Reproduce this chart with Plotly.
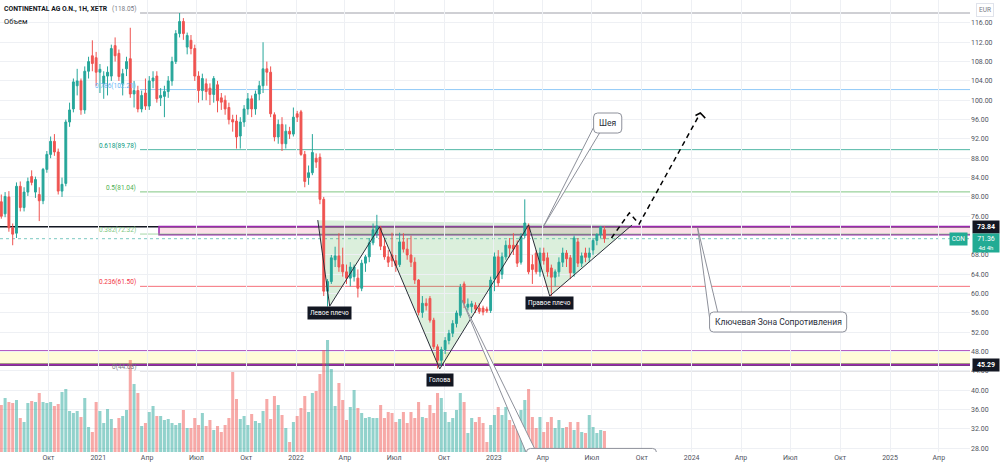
import pandas as pd
import plotly.graph_objects as go

# ---------------- weekly candles (EUR) ----------------
last_week = "2023-07-24"
opens = [
    79.0, 76.5, 80.0, 73.6, 72.5, 82.2, 77.8, 81.0, 84.2, 81.0,
    80.5, 79.2, 85.7, 88.8, 91.5, 89.3, 81.2, 82.8, 95.5, 98.2,
    103.0, 104.0, 98.0, 106.0, 109.2, 108.8, 105.8, 103.4, 105.0, 105.0,
    111.3, 109.7, 103.4, 106.5, 108.6, 101.3, 102.0, 98.2, 101.5, 98.8,
    104.0, 105.0, 100.5, 100.8, 101.8, 104.0, 108.0, 113.8, 116.3, 111.0,
    112.4, 110.7, 105.0, 102.0, 103.4, 102.5, 101.2, 103.2, 100.5, 100.0,
    98.5, 96.0, 95.7, 92.6, 95.5, 98.2, 100.3, 98.2, 101.3, 103.0,
    106.5, 105.8, 97.0, 92.4, 95.0, 91.0, 93.6, 93.0, 97.2, 97.6,
    88.8, 84.0, 85.0, 88.0, 88.2, 79.5, 60.5, 62.5, 67.0, 67.8,
    66.0, 64.5, 63.2, 63.5, 63.2, 61.1, 66.3, 67.6, 70.5, 72.5,
    73.5, 69.8, 67.6, 68.0, 66.8, 66.0, 70.7, 69.2, 68.0, 66.5,
    62.8, 56.1, 58.0, 59.0, 54.5, 49.0, 46.2, 48.4, 50.3, 51.8,
    53.8, 55.5, 62.0, 57.2, 57.3, 57.6, 57.0, 57.0, 56.8, 56.5,
    63.0, 67.6, 64.0, 67.6, 70.0, 70.0, 70.0, 66.5, 72.0, 74.0,
    66.0, 68.4, 64.5, 68.4, 67.4, 65.3, 63.4, 64.5, 66.5, 68.4,
    67.4, 64.3, 70.7, 66.3, 68.4, 67.5, 69.0, 71.0, 72.2, 73.2,
]
highs = [
    80.5, 81.0, 81.2, 74.5, 83.0, 83.2, 82.0, 84.0, 85.5, 84.2,
    82.0, 86.0, 89.5, 92.5, 93.0, 90.0, 84.0, 96.0, 99.5, 104.5,
    106.5, 104.5, 107.0, 109.0, 112.4, 110.0, 107.5, 106.0, 107.0, 111.5,
    113.0, 110.5, 106.5, 109.0, 115.0, 104.0, 103.0, 102.0, 104.5, 105.0,
    106.0, 106.0, 102.5, 103.0, 105.0, 109.0, 114.5, 118.05, 117.0, 114.0,
    113.5, 111.5, 106.0, 105.5, 104.5, 103.5, 105.0, 104.0, 101.5, 101.0,
    99.5, 97.0, 97.0, 96.5, 99.0, 101.5, 101.0, 102.0, 104.0, 112.0,
    108.0, 107.0, 97.5, 96.0, 96.5, 95.0, 94.5, 98.5, 97.8, 98.0,
    89.5, 86.5, 93.0, 89.0, 89.0, 80.0, 63.0, 68.0, 69.7, 72.5,
    69.5, 66.0, 66.5, 66.0, 65.0, 67.0, 68.0, 71.5, 74.5, 76.3,
    74.0, 71.5, 69.0, 72.6, 68.0, 72.6, 72.5, 71.5, 72.0, 67.5,
    63.0, 59.5, 59.0, 59.5, 55.0, 49.5, 49.0, 51.0, 52.5, 54.5,
    56.5, 62.0, 62.5, 59.0, 58.5, 58.2, 58.0, 57.5, 57.3, 63.5,
    68.5, 69.0, 68.5, 71.0, 71.5, 72.5, 71.0, 72.5, 79.5, 74.5,
    68.0, 69.0, 69.5, 69.5, 68.5, 66.0, 65.0, 67.5, 69.5, 69.0,
    68.0, 72.0, 71.5, 68.5, 69.5, 69.5, 71.5, 72.5, 74.0, 74.0,
]
lows = [
    75.5, 75.8, 72.8, 70.0, 71.5, 77.0, 77.0, 80.2, 82.4, 79.8,
    75.0, 78.5, 85.0, 88.0, 88.5, 80.5, 80.0, 82.2, 94.5, 97.5,
    101.0, 97.0, 97.2, 104.5, 106.0, 103.0, 101.5, 100.3, 101.0, 104.0,
    108.0, 104.0, 101.0, 105.0, 100.5, 98.5, 97.5, 97.5, 98.0, 98.0,
    102.5, 99.5, 98.8, 96.5, 100.5, 103.0, 107.5, 113.0, 112.5, 109.5,
    109.5, 104.0, 99.5, 100.0, 100.0, 99.0, 99.5, 97.5, 98.0, 97.0,
    95.0, 93.5, 90.0, 90.0, 94.5, 97.0, 96.5, 97.0, 100.0, 101.5,
    103.0, 96.5, 91.5, 91.0, 89.5, 90.0, 92.0, 92.5, 95.5, 88.5,
    82.0, 82.5, 84.5, 86.0, 78.5, 59.5, 57.3, 62.0, 65.5, 64.5,
    63.5, 62.0, 61.5, 62.5, 59.2, 60.5, 64.5, 66.5, 70.0, 71.5,
    69.0, 67.0, 65.5, 65.5, 64.5, 65.5, 68.5, 67.0, 65.5, 62.0,
    55.5, 55.0, 56.5, 54.0, 48.5, 44.5, 45.0, 47.5, 49.5, 51.0,
    53.0, 55.0, 57.0, 56.5, 56.0, 56.0, 55.8, 55.5, 56.0, 56.0,
    60.5, 61.5, 63.0, 67.0, 67.5, 68.0, 65.5, 66.0, 71.5, 64.0,
    62.0, 64.0, 63.5, 66.0, 63.5, 59.5, 61.5, 63.5, 65.5, 65.5,
    63.0, 63.5, 65.5, 65.5, 66.5, 66.5, 68.0, 70.0, 71.5, 70.5,
]
closes = [
    76.0, 80.1, 73.6, 72.3, 82.2, 77.8, 81.0, 83.2, 83.0, 83.6,
    79.2, 85.7, 88.8, 91.5, 89.3, 81.2, 82.6, 95.5, 98.0, 103.8,
    104.0, 98.0, 106.0, 108.0, 107.6, 105.8, 106.4, 105.0, 105.8, 110.7,
    109.2, 104.9, 105.5, 108.0, 101.3, 102.0, 98.2, 101.0, 98.8, 104.0,
    104.6, 100.3, 101.0, 101.8, 104.0, 108.0, 113.8, 116.3, 113.8, 113.4,
    110.7, 105.0, 102.0, 104.5, 101.8, 101.2, 104.5, 99.9, 99.6, 98.2,
    96.0, 95.5, 92.4, 95.5, 98.2, 100.3, 98.2, 101.3, 103.0, 106.5,
    105.8, 97.2, 92.4, 95.0, 91.0, 93.6, 93.0, 96.5, 96.5, 88.8,
    83.2, 85.0, 89.2, 87.2, 79.5, 60.5, 62.5, 67.4, 67.8, 65.5,
    64.5, 63.2, 65.5, 65.5, 61.1, 66.3, 67.6, 70.5, 73.2, 74.0,
    69.8, 67.6, 66.5, 66.8, 65.8, 70.7, 69.2, 68.0, 66.5, 62.8,
    56.1, 58.0, 57.5, 54.5, 49.0, 46.2, 48.4, 50.3, 51.8, 53.8,
    56.0, 61.3, 58.0, 57.8, 57.9, 56.8, 56.3, 56.2, 56.4, 62.8,
    67.6, 62.2, 67.6, 70.0, 69.4, 69.2, 66.3, 71.8, 74.6, 64.5,
    65.0, 64.5, 68.4, 66.8, 64.5, 63.4, 64.5, 66.5, 68.4, 67.2,
    64.3, 71.5, 66.3, 67.8, 67.5, 68.4, 71.0, 72.2, 73.8, 71.36,
]
# weekly volume, millions of shares (no scale shown on the chart)
volume_m = [
    4.7, 5.4, 5.0, 4.9, 5.2, 3.4, 3.0, 4.9, 5.1, 5.0,
    5.9, 5.0, 4.9, 5.0, 4.6, 4.8, 6.0, 6.3, 4.1, 3.9,
    4.1, 3.5, 5.4, 2.5, 2.0, 5.0, 4.1, 2.9, 4.3, 3.3,
    2.4, 3.4, 3.6, 4.2, 9.2, 6.8, 5.9, 2.6, 2.9, 4.0,
    4.6, 3.6, 3.6, 3.2, 3.3, 2.9, 2.7, 2.9, 4.2, 2.4,
    2.4, 3.4, 2.7, 3.9, 2.6, 3.2, 2.2, 2.6, 2.0, 2.7,
    3.4, 8.0, 5.3, 3.3, 3.6, 2.7, 3.8, 3.1, 2.9, 4.1,
    5.3, 3.3, 5.6, 4.7, 3.7, 2.4, 1.0, 3.0, 3.6, 4.4,
    5.6, 4.0, 5.9, 6.1, 7.8, 10.2, 11.2, 8.3, 4.6, 6.9,
    5.2, 3.2, 4.5, 6.2, 4.4, 3.9, 3.4, 3.5, 3.4, 3.4,
    4.7, 3.4, 4.0, 3.9, 3.0, 3.3, 4.0, 2.9, 4.0, 3.4,
    5.0, 3.5, 3.4, 4.7, 3.9, 5.9, 5.4, 4.0, 3.0, 3.4,
    4.2, 5.9, 5.0, 1.9, 3.4, 3.0, 3.5, 2.9, 1.0, 2.7,
    3.7, 4.5, 3.7, 4.5, 3.2, 2.7, 3.7, 4.2, 5.2, 6.3,
    3.5, 2.4, 3.5, 2.0, 3.0, 3.5, 2.4, 3.2, 2.4, 2.5,
    3.0, 2.2, 3.0, 2.0, 1.9, 3.7, 2.5, 1.9, 2.2, 2.1,
]

# ---------------- axes ----------------
# 72.00 sits under the price tags on the scale, so it is not labelled
price_tick_values = [28, 32, 36, 40, 44, 48, 52, 56, 60, 64, 68, 76, 80,
                     84, 88, 92, 96, 100, 104, 108, 112, 116]
time_tick_dates = ["2020-10-01", "2021-01-01", "2021-04-01", "2021-07-01", "2021-10-01",
                   "2022-01-01", "2022-04-01", "2022-07-01", "2022-10-01", "2023-01-01",
                   "2023-04-01", "2023-07-01", "2023-10-01", "2024-01-01", "2024-04-01",
                   "2024-07-01", "2024-10-01", "2025-01-01", "2025-04-01"]
time_tick_labels = ["Окт", "2021", "Апр", "Июл", "Окт", "2022", "Апр", "Июл", "Окт", "2023",
                    "Апр", "Июл", "Окт", "2024", "Апр", "Июл", "Окт", "2025", "Апр"]

# ---------------- drawings ----------------
fib_prices = [44.03, 61.50, 72.32, 81.04, 89.78, 102.21, 118.05]
fib_labels = ["0(44.03)", "0.236(61.50)", "0.382(72.32)", "0.5(81.04)", "0.618(89.78)",
              "0.786(102.21)", "(118.05)"]
fib_colors = ["#787b86", "#f23645", "#81c784", "#4caf50", "#089981", "#64b5f6", "#787b86"]
fib_start = "2021-03-19"

resistance_start = "2021-04-23"
resistance_zone = [72.2, 73.9]
support_zone = [45.29, 48.1]
level_resistance = 73.84
level_support = 45.29
last_price = 71.36

hs_dates = ["2022-02-10", "2022-03-04", "2022-06-04", "2022-09-23", "2023-03-06", "2023-04-14", "2023-09-13"]
hs_prices = [75.2, 57.4, 73.8, 44.4, 74.2, 59.5, 74.2]
hs_point_labels = {1: "Левое плечо", 3: "Голова", 5: "Правое плечо"}
hs_label_shift = {1: 0, 3: -4, 5: 0}

proj_dates = ["2023-08-06", "2023-09-08", "2023-09-26", "2024-01-17"]
proj_prices = [71.5, 76.7, 74.4, 97.36]
arrow_dates = ["2024-01-08", "2024-01-17", "2024-01-26"]
arrow_prices = [96.84, 97.36, 96.3]

callouts = [
    dict(text="Шея", anchor=("2023-04-02", 73.8),
         box=("2023-07-04", "2023-08-25", 93.22, 97.36),
         tail=[("2023-07-04", 94.4), ("2023-07-15", 93.22)]),
    dict(text="Ключевая Зона Сопротивления", anchor=("2024-01-12", 73.57),
         box=("2024-02-03", "2024-10-13", 52.05, 56.19),
         tail=[("2024-02-03", 55.0), ("2024-02-18", 56.19)]),
    dict(text="", anchor=("2022-11-03", 58.7),
         box=("2023-03-02", "2023-10-28", 15.0, 27.97),
         tail=[("2023-03-02", 27.0), ("2023-03-17", 27.97)]),
]

# ---------------- geometry ----------------
W, H = 1000, 468
M_R, M_B = 30, 16
PLOT_W, PLOT_H = W - M_R, H - M_B
X_RANGE = ["2020-07-03 14:00", "2025-05-28 14:00"]
PRICE_RANGE = [27.23, 120.74]
VOL_RANGE = [0, 45.2]
DAYS_PER_PX = (pd.Timestamp(X_RANGE[1]) - pd.Timestamp(X_RANGE[0])) / pd.Timedelta(days=1) / PLOT_W
PRICE_PER_PX = (PRICE_RANGE[1] - PRICE_RANGE[0]) / PLOT_H
FAR_LEFT, FAR_RIGHT = "2019-01-01", "2026-12-31"

INC, DEC = "#26a69a", "#ef5350"
TEXT = "#131722"
AXIS_TEXT = "#50535e"
GRID = "#eef0f4"
FONT = "Roboto, Arial, sans-serif"


def ds(t):
    return pd.Timestamp(t).strftime("%Y-%m-%d_%H:%M:%S")


def rrect_path(xa, xb, ya, yb, r_px=4):
    xa, xb = pd.Timestamp(xa), pd.Timestamp(xb)
    dx = pd.Timedelta(days=r_px * DAYS_PER_PX)
    dy = r_px * PRICE_PER_PX
    lo, hi = min(ya, yb), max(ya, yb)
    return (f"M {ds(xa + dx)},{hi} L {ds(xb - dx)},{hi} Q {ds(xb)},{hi} {ds(xb)},{hi - dy} "
            f"L {ds(xb)},{lo + dy} Q {ds(xb)},{lo} {ds(xb - dx)},{lo} L {ds(xa + dx)},{lo} "
            f"Q {ds(xa)},{lo} {ds(xa)},{lo + dy} L {ds(xa)},{hi - dy} Q {ds(xa)},{hi} {ds(xa + dx)},{hi} Z")


dates = pd.date_range(end=last_week, periods=len(closes), freq="7D")
assert len(opens) == len(highs) == len(lows) == len(closes) == len(volume_m)

vol_colors = ["rgba(38,166,154,0.5)" if c >= o else "rgba(239,83,80,0.5)"
              for o, c in zip(opens, closes)]

fig = go.Figure()
fig.add_trace(go.Bar(x=dates, y=volume_m, marker=dict(color=vol_colors, line=dict(width=0)),
                     xaxis="x", yaxis="y", hoverinfo="skip", showlegend=False))
fig.add_trace(go.Candlestick(
    x=dates, open=opens, high=highs, low=lows, close=closes, xaxis="x", yaxis="y2",
    increasing=dict(line=dict(color=INC, width=1), fillcolor=INC),
    decreasing=dict(line=dict(color=DEC, width=1), fillcolor=DEC),
    whiskerwidth=0, showlegend=False, hoverinfo="skip"))

# pattern zigzag
fig.add_trace(go.Scatter(x=hs_dates, y=hs_prices, mode="lines", xaxis="x", yaxis="y2",
                         line=dict(color="#2a2e39", width=1), hoverinfo="skip", showlegend=False))
# projected path
fig.add_trace(go.Scatter(x=proj_dates, y=proj_prices, mode="lines", xaxis="x", yaxis="y2",
                         line=dict(color="#000000", width=1.5, dash="5px,4px"),
                         hoverinfo="skip", showlegend=False))
fig.add_trace(go.Scatter(x=arrow_dates, y=arrow_prices, mode="lines", xaxis="x", yaxis="y2",
                         line=dict(color="#000000", width=1.5), hoverinfo="skip", showlegend=False))

shapes = []
# support zone (yellow)
shapes.append(dict(type="rect", xref="x", yref="y2", x0=FAR_LEFT, x1=FAR_RIGHT,
                   y0=support_zone[0], y1=support_zone[1], fillcolor="rgba(255,235,59,0.2)",
                   line=dict(color="#9c27b0", width=1.5), layer="below"))
# resistance zone (pink)
shapes.append(dict(type="rect", xref="x", yref="y2", x0=resistance_start, x1=FAR_RIGHT,
                   y0=resistance_zone[0], y1=resistance_zone[1], fillcolor="rgba(233,30,99,0.14)",
                   line=dict(color="#9c27b0", width=1.5), layer="below"))
# fib levels
for p, col in zip(fib_prices, fib_colors):
    shapes.append(dict(type="line", xref="x", yref="y2", x0=fib_start, x1=FAR_RIGHT, y0=p, y1=p,
                       line=dict(color=col, width=1), opacity=0.7, layer="below"))
# last price line
shapes.append(dict(type="line", xref="paper", yref="y2", x0=0, x1=1, y0=last_price, y1=last_price,
                   line=dict(color=INC, width=1, dash="dot"), opacity=0.6, layer="below"))
# key horizontal levels
shapes.append(dict(type="line", xref="paper", yref="y2", x0=0, x1=1, y0=level_resistance,
                   y1=level_resistance, line=dict(color="#131722", width=1.5), layer="below"))
shapes.append(dict(type="line", xref="paper", yref="y2", x0=0, x1=1, y0=level_support,
                   y1=level_support, line=dict(color="#1c1027", width=2.2), layer="below"))
# head & shoulders fill
hs_path = "M " + " L ".join(f"{d},{p}" for d, p in zip(hs_dates, hs_prices)) + " Z"
shapes.append(dict(type="path", xref="x", yref="y2", path=hs_path,
                   fillcolor="rgba(76,175,80,0.2)", line=dict(width=0), layer="below"))
# callouts
for c in callouts:
    ad, ap = c["anchor"]
    (t1d, t1p), (t2d, t2p) = c["tail"]
    tail = f"M {ds(ad)},{ap} L {ds(t1d)},{t1p} L {ds(t2d)},{t2p} Z"
    shapes.append(dict(type="path", xref="x", yref="y2", path=tail, fillcolor="white",
                       line=dict(color="#8d909a", width=1), layer="above"))
    bx0, bx1, by0, by1 = c["box"]
    shapes.append(dict(type="path", xref="x", yref="y2", path=rrect_path(bx0, bx1, by0, by1),
                       fillcolor="white", line=dict(color="#8d909a", width=1), layer="above"))

annotations = []
for p, lab, col in zip(fib_prices, fib_labels, fib_colors):
    annotations.append(dict(x=fib_start, y=p, xref="x", yref="y2", text=lab, showarrow=False,
                            xanchor="right", yanchor="middle", xshift=-2, yshift=4,
                            font=dict(size=6.5, color=col, family=FONT)))
for idx, lab in hs_point_labels.items():
    annotations.append(dict(x=hs_dates[idx], y=hs_prices[idx], xref="x", yref="y2", text=lab,
                            showarrow=False, xanchor="center", yanchor="top", yshift=hs_label_shift[idx],
                            bgcolor="#131722", borderpad=2, font=dict(size=6.5, color="white", family=FONT)))
for c in callouts:
    if c["text"]:
        bx0, bx1, by0, by1 = c["box"]
        mid = pd.Timestamp(bx0) + (pd.Timestamp(bx1) - pd.Timestamp(bx0)) / 2
        annotations.append(dict(x=mid, y=(by0 + by1) / 2, xref="x", yref="y2", text=c["text"],
                                showarrow=False, xanchor="center", yanchor="middle",
                                font=dict(size=8.5, color="#2a2e39", family=FONT)))
# price scale tags
annotations.append(dict(x=972 / PLOT_W, y=level_resistance, xref="paper", yref="y2",
                        text="<b>73.84</b>", showarrow=False, xanchor="left", yanchor="middle",
                        bgcolor="#131722", width=24, height=10, borderpad=1,
                        font=dict(size=7, color="white", family=FONT)))
annotations.append(dict(x=972 / PLOT_W, y=level_support, xref="paper", yref="y2",
                        text="<b>45.29</b>", showarrow=False, xanchor="left", yanchor="middle",
                        bgcolor="#131722", width=24, height=10, borderpad=1,
                        font=dict(size=7, color="white", family=FONT)))
annotations.append(dict(x=972 / PLOT_W, y=last_price, xref="paper", yref="y2",
                        text="71.36<br><span style='font-size:6px'>4d 4h</span>", showarrow=False,
                        xanchor="left", yanchor="top", yshift=6, bgcolor="#22ab94",
                        width=24, height=16, borderpad=1,
                        font=dict(size=7, color="white", family=FONT)))
annotations.append(dict(x=968 / PLOT_W, y=last_price, xref="paper", yref="y2",
                        text="CON", showarrow=False, xanchor="right", yanchor="middle",
                        bgcolor="#22ab94", width=15, height=10, borderpad=1,
                        font=dict(size=6.5, color="white", family=FONT)))
annotations.append(dict(x=985 / PLOT_W, y=1 - 10 / PLOT_H, xref="paper", yref="paper",
                        text="EUR", showarrow=False, xanchor="center", yanchor="middle",
                        bordercolor="#e0e3eb", borderwidth=1, borderpad=2, bgcolor="white",
                        font=dict(size=6.5, color="#787b86", family=FONT)))
# legend text
annotations.append(dict(x=2 / PLOT_W, y=1 - 9 / PLOT_H, xref="paper", yref="paper",
                        text="<b>CONTINENTAL AG O.N., 1Н, XETR</b>", showarrow=False,
                        xanchor="left", yanchor="middle",
                        font=dict(size=6.8, color=TEXT, family=FONT)))
annotations.append(dict(x=2 / PLOT_W, y=1 - 21 / PLOT_H, xref="paper", yref="paper",
                        text="Объем", showarrow=False, xanchor="left", yanchor="middle",
                        font=dict(size=7.5, color=TEXT, family=FONT)))

fig.update_layout(
    width=W, height=H, margin=dict(l=0, r=M_R, t=0, b=M_B, pad=0),
    paper_bgcolor="white", plot_bgcolor="white", showlegend=False,
    bargap=0.2, hovermode=False,
    font=dict(family=FONT, size=7, color=TEXT),
    xaxis=dict(type="date", range=X_RANGE, tickvals=time_tick_dates, ticktext=time_tick_labels,
               showgrid=True, gridcolor=GRID, gridwidth=1, zeroline=False, showline=False,
               ticks="", tickfont=dict(size=7, color=AXIS_TEXT), rangeslider=dict(visible=False),
               fixedrange=True),
    yaxis=dict(range=VOL_RANGE, visible=False, fixedrange=True, showgrid=False),
    yaxis2=dict(overlaying="y", side="right", range=PRICE_RANGE, tickvals=price_tick_values,
                tickformat=".2f", showgrid=True, gridcolor=GRID, gridwidth=1, zeroline=False,
                showline=False, ticks="", tickfont=dict(size=7, color=AXIS_TEXT), fixedrange=True),
    shapes=shapes, annotations=annotations,
)

fig.write_html("out.html", config={"displayModeBar": False})
